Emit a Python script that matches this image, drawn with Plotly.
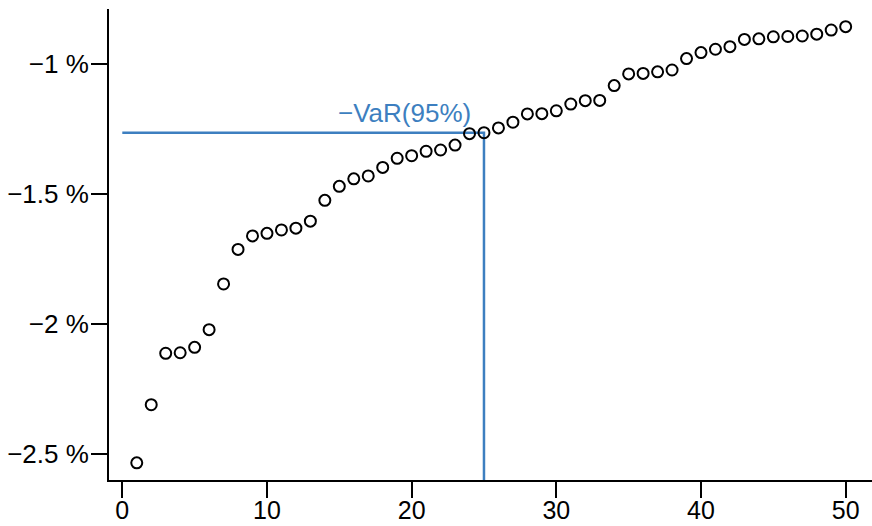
import plotly.graph_objects as go

# Sorted simulated returns (percent), index 1..50
idx = list(range(1, 51))
returns_pct = [
    -2.535, -2.311, -2.113, -2.111, -2.090, -2.022, -1.846, -1.713, -1.661, -1.651,
    -1.638, -1.631, -1.604, -1.524, -1.470, -1.441, -1.430, -1.397, -1.362, -1.352,
    -1.335, -1.330, -1.311, -1.267, -1.2635, -1.245, -1.223, -1.191, -1.190, -1.179,
    -1.153, -1.140, -1.139, -1.082, -1.037, -1.035, -1.029, -1.022, -0.978, -0.955,
    -0.942, -0.932, -0.904, -0.902, -0.894, -0.893, -0.891, -0.884, -0.868, -0.855,
]
var_index = 25
var_label = "\u2212VaR(95%)"

y_tickvals = [-1.0, -1.5, -2.0, -2.5]
y_ticktext = ["\u22121 %", "\u22121.5 %", "\u22122 %", "\u22122.5 %"]
x_tickvals = [0, 10, 20, 30, 40, 50]
x_ticktext = ["0", "10", "20", "30", "40", "50"]

x_range = [-0.919, 51.82]
y_range = [-2.601, -0.787]

blue = "#3D7FC0"
var_value = returns_pct[var_index - 1]

fig = go.Figure()

# VaR guide lines
fig.add_trace(go.Scatter(
    x=[0, var_index, var_index],
    y=[var_value, var_value, y_range[0]],
    mode="lines",
    line=dict(color=blue, width=2.5),
    hoverinfo="skip",
    showlegend=False,
))

fig.add_trace(go.Scatter(
    x=idx, y=returns_pct,
    mode="markers",
    marker=dict(symbol="circle-open", size=11, color="black", line=dict(width=2, color="black")),
    showlegend=False,
))

fig.add_annotation(
    x=19.5, y=var_value, xref="x", yref="y",
    text=var_label, showarrow=False,
    xanchor="center", yanchor="middle", yshift=20,
    font=dict(family="Liberation Sans, Arial, sans-serif", size=26, color=blue),
)

axis_common = dict(
    showgrid=False, zeroline=False, showline=True, linecolor="black", linewidth=2,
    ticks="outside", ticklen=16, tickwidth=2, tickcolor="black", automargin=False,
)

fig.update_xaxes(range=x_range, tickvals=x_tickvals, ticktext=x_ticktext,
                 ticklabelstandoff=-9,
                 tickfont=dict(family="Liberation Sans, Arial, sans-serif", size=25, color="black"),
                 **axis_common)
fig.update_yaxes(range=y_range, tickvals=y_tickvals, ticktext=y_ticktext,
                 ticklabelstandoff=-3,
                 tickfont=dict(family="Liberation Sans, Arial, sans-serif", size=26, color="black"),
                 **axis_common)

fig.update_layout(
    width=872, height=526,
    margin=dict(l=109, r=0, t=9, b=46, pad=0),
    plot_bgcolor="white", paper_bgcolor="white",
    font=dict(family="Liberation Sans, Arial, sans-serif"),
)

fig.write_html(
    "out.html",
    config={"displayModeBar": False},
    post_script="document.body.style.margin='0';document.body.style.overflow='hidden';",
)
